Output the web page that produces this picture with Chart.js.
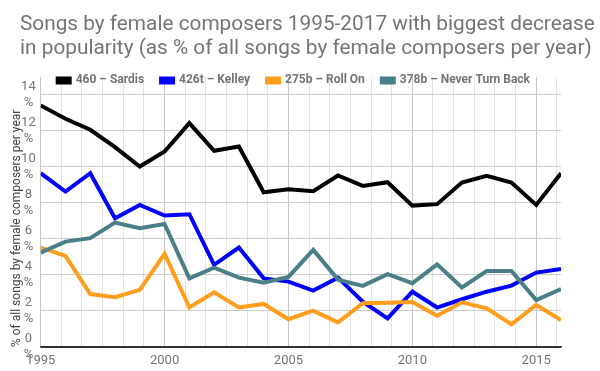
<!DOCTYPE html>
<html>
<head>
<meta charset="utf-8">
<script src="https://cdn.jsdelivr.net/npm/chart.js@4.4.1/dist/chart.umd.min.js"></script>
<style>
  body { margin: 0; background: #fff; }
  #wrap { width: 600px; height: 371px; }
</style>
</head>
<body>
<div id="wrap"><canvas id="chart"></canvas></div>
<script>
// years on the x axis
const years = [1995, 1996, 1997, 1998, 1999, 2000, 2001, 2002, 2003, 2004, 2005,
  2006, 2007, 2008, 2009, 2010, 2011, 2012, 2013, 2014, 2015, 2016];

// % of all songs by female composers, per year
const sardis = [13.41, 12.67, 12.06, 11.09, 10.02, 10.85, 12.43, 10.89, 11.13, 8.59, 8.76,
  8.65, 9.52, 8.94, 9.15, 7.85, 7.93, 9.13, 9.5, 9.13, 7.89, 9.65];
const kelley = [9.65, 8.63, 9.65, 7.15, 7.89, 7.3, 7.37, 4.56, 5.52, 3.81, 3.63,
  3.13, 3.85, 2.52, 1.59, 3.07, 2.19, 2.65, 3.07, 3.41, 4.13, 4.33];
const rollOn = [5.52, 5.06, 2.94, 2.76, 3.17, 5.17, 2.2, 3.04, 2.2, 2.39, 1.54,
  2.02, 1.37, 2.43, 2.46, 2.5, 1.74, 2.48, 2.15, 1.26, 2.33, 1.5];
const neverTurnBack = [5.24, 5.85, 6.04, 6.91, 6.59, 6.83, 3.81, 4.41, 3.85, 3.57, 3.89,
  5.39, 3.74, 3.39, 4.04, 3.54, 4.59, 3.31, 4.22, 4.22, 2.61, 3.22];

const seriesNames = ['460 – Sardis', '426t – Kelley', '275b – Roll On', '378b – Never Turn Back'];
const xTickLabels = [1995, 2000, 2005, 2010, 2015];
const yTickValues = [0, 2, 4, 6, 8, 10, 12, 14];

const titleLines = [
  'Songs by female composers 1995-2017 with biggest decrease',
  'in popularity (as % of all songs by female composers per year)'
];
const yTitle = '% of all songs by female composers per year';

Chart.defaults.font.family = 'Roboto';

function toPoints(vals) {
  return years.map((yr, i) => ({ x: yr, y: vals[i] }));
}

const colors = ['#000000', '#0000ff', '#ff9d1c', '#4a7f87'];
const allSeries = [sardis, kelley, rollOn, neverTurnBack];

const datasets = allSeries.map((vals, i) => ({
  label: seriesNames[i],
  data: toPoints(vals),
  borderColor: colors[i],
  backgroundColor: colors[i],
  borderWidth: 4,
  pointRadius: 0,
  tension: 0,
  order: allSeries.length - i   // later series on top, like the original
}));

// legend takes no room in the layout and is moved over the top strip of the plot;
// title gets the full width so it is not squeezed
const layoutTweaks = {
  id: 'layoutTweaks',
  afterLayout(chart) {
    const lg = chart.legend;
    if (lg) {
      lg.top = chart.chartArea.top - 19.3;
      lg.bottom = lg.top + 40;
      lg.left = chart.chartArea.left;
      lg.right = chart.width;
    }
    if (chart.titleBlock) {
      chart.titleBlock.right = chart.width;
    }
  }
};

const ctx = document.getElementById('chart');

let mainChart = new Chart(ctx, {
  type: 'line',
  data: { datasets: datasets },
  plugins: [layoutTweaks],
  options: {
    responsive: true,
    maintainAspectRatio: false,
    animation: false,
    layout: { padding: { left: 20, right: 39, top: 0, bottom: 0 } },
    plugins: {
      tooltip: { enabled: false },
      title: {
        display: true,
        text: titleLines,
        align: 'start',
        color: '#757575',
        font: { size: 20.8, weight: 'normal', lineHeight: 1.12 },
        padding: { top: 13.5, bottom: 15.7 }
      },
      legend: {
        position: 'top',
        align: 'start',
        reverse: true,
        maxHeight: 1,
        labels: {
          boxWidth: 12,
          boxHeight: 4,
          padding: 17,
          color: '#757575',
          font: { size: 12, weight: 'bold' }
        }
      }
    },
    scales: {
      x: {
        type: 'linear',
        min: 1995,
        max: 2016,
        afterBuildTicks(scale) {
          const t = [];
          for (let k = 0; 1995 + k * 5 / 6 <= 2016 + 1e-9; k++) {
            t.push({ value: 1995 + k * 5 / 6 });
          }
          scale.ticks = t;
        },
        afterFit(scale) { scale.height = 24; },
        grid: {
          drawTicks: false,
          color(c) {
            const v = c.tick ? c.tick.value : 0;
            return xTickLabels.some(y => Math.abs(y - v) < 1e-6) ? '#c6c6c6' : '#e3e3e3';
          }
        },
        border: { color: '#333333', width: 1.5 },
        ticks: {
          autoSkip: false,
          maxRotation: 0,
          padding: 6,
          color: '#757575',
          font: { size: 13 },
          callback(value) {
            const hit = xTickLabels.find(y => Math.abs(y - value) < 1e-6);
            return hit === undefined ? '' : String(hit);
          }
        }
      },
      y: {
        min: 0,
        max: 15,
        afterBuildTicks(scale) {
          scale.ticks = yTickValues.map(v => ({ value: v }));
        },
        afterFit(scale) { scale.width = 20.7; },
        grid: {
          drawTicks: false,
          color(c) {
            return c.tick && c.tick.value === 0 ? '#333333' : '#cccccc';
          }
        },
        border: { display: false },
        title: {
          display: true,
          text: yTitle,
          align: 'start',
          color: '#444444',
          font: { size: 12 },
          padding: { top: -10.2, bottom: 0 }
        },
        ticks: {
          padding: 5,
          crossAlign: 'center',
          color: '#757575',
          font: { size: 13 },
          callback(value) {
            return [String(value), '%'];
          }
        }
      }
    }
  }
});
</script>
</body>
</html>
